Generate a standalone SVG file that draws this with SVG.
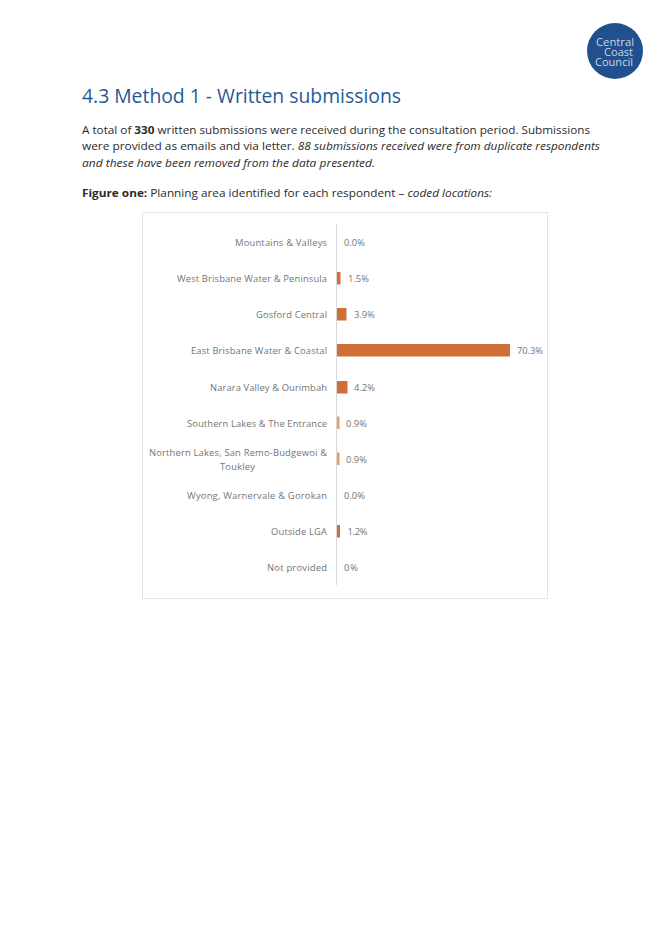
<svg xmlns="http://www.w3.org/2000/svg" width="670" height="947" viewBox="0 0 670 947">
<style>
text{font-family:"Open Sans","Noto Sans","Liberation Sans",sans-serif}
.b{font-size:11.4px;fill:#2b2b2b}
.c{font-size:9.4px;fill:#757575}
.l{text-anchor:end}
.bar{fill:#cf6f36}
.lite{fill:#ec9a62}
.logo{font-size:11px;fill:#c9d6e8}
</style>
<rect width="670" height="947" fill="#fff"/>
<g id="logo"><circle cx="615" cy="51" r="28" fill="#22508e"/>
<text class="logo" x="596" y="46" textLength="38" lengthAdjust="spacingAndGlyphs">Central</text>
<text class="logo" x="604" y="56" textLength="29" lengthAdjust="spacingAndGlyphs">Coast</text>
<text class="logo" x="595" y="66" textLength="38" lengthAdjust="spacingAndGlyphs">Council</text></g>
<text id="heading" x="82" y="103" font-size="20.5" fill="#1f5a96" textLength="319" lengthAdjust="spacingAndGlyphs">4.3 Method 1 - Written submissions</text>
<g id="body">
<text class="b" x="82" y="134" textLength="508" lengthAdjust="spacingAndGlyphs">A total of <tspan font-weight="700">330</tspan> written submissions were received during the consultation period. Submissions</text>
<text class="b" x="82" y="150" textLength="518" lengthAdjust="spacingAndGlyphs">were provided as emails and via letter. <tspan font-style="italic">88 submissions received were from duplicate respondents</tspan></text>
<text class="b" x="82" y="167" font-style="italic" textLength="293" lengthAdjust="spacingAndGlyphs">and these have been removed from the data presented.</text>
<text class="b" x="82" y="197" textLength="410" lengthAdjust="spacingAndGlyphs"><tspan font-weight="700">Figure one:</tspan> Planning area identified for each respondent – <tspan font-style="italic">coded locations:</tspan></text>
</g>
<g id="chart">
<rect x="142.5" y="212.5" width="405" height="386" fill="#fff" stroke="#e4e4e4"/>
<line x1="336.5" y1="224" x2="336.5" y2="585" stroke="#d9d9d9"/>
<g id="row1"><text class="c l" x="327" y="245.500" textLength="92">Mountains &amp; Valleys</text><text class="c" x="344" y="246" textLength="21">0.0%</text></g>
<g id="row2"><text class="c l" x="327" y="281.500" textLength="150">West Brisbane Water &amp; Peninsula</text><rect class="bar" x="337" y="272" width="3.5" height="12.5"/><text class="c" x="348" y="282" textLength="21">1.5%</text></g>
<g id="row3"><text class="c l" x="327" y="317.500" textLength="71">Gosford Central</text><rect class="bar" x="337" y="308" width="9.5" height="12.5"/><text class="c" x="354" y="318" textLength="21">3.9%</text></g>
<g id="row4"><text class="c l" x="327" y="353.500" textLength="136">East Brisbane Water &amp; Coastal</text><rect class="bar" x="337" y="344" width="173" height="12.5"/><text class="c" x="517" y="354" textLength="26">70.3%</text></g>
<g id="row5"><text class="c l" x="327" y="390.500" textLength="117">Narara Valley &amp; Ourimbah</text><rect class="bar" x="337" y="381" width="10.5" height="12.5"/><text class="c" x="354" y="391" textLength="21">4.2%</text></g>
<g id="row6"><text class="c l" x="327" y="426.500" textLength="140">Southern Lakes &amp; The Entrance</text><rect class="lite" x="337" y="416.5" width="2.5" height="12.5"/><text class="c" x="346" y="427" textLength="21">0.9%</text></g>
<g id="row7"><text class="c l" x="327" y="455.500" textLength="178">Northern Lakes, San Remo-Budgewoi &amp;</text><text class="c" x="220" y="469.500" textLength="35">Toukley</text><rect class="lite" x="337" y="452.5" width="2.5" height="12.5"/><text class="c" x="346" y="463" textLength="21">0.9%</text></g>
<g id="row8"><text class="c l" x="327" y="498.500" textLength="140">Wyong, Warnervale &amp; Gorokan</text><text class="c" x="344" y="499" textLength="21">0.0%</text></g>
<g id="row9"><text class="c l" x="327" y="534.500" textLength="56">Outside LGA</text><rect class="bar" x="337" y="525" width="3" height="12.5"/><text class="c" x="347.500" y="535" textLength="20">1.2%</text></g>
<g id="row10"><text class="c l" x="327" y="570.500" textLength="60">Not provided</text><text class="c" x="344" y="571" textLength="14">0%</text></g>
</g>
</svg>
